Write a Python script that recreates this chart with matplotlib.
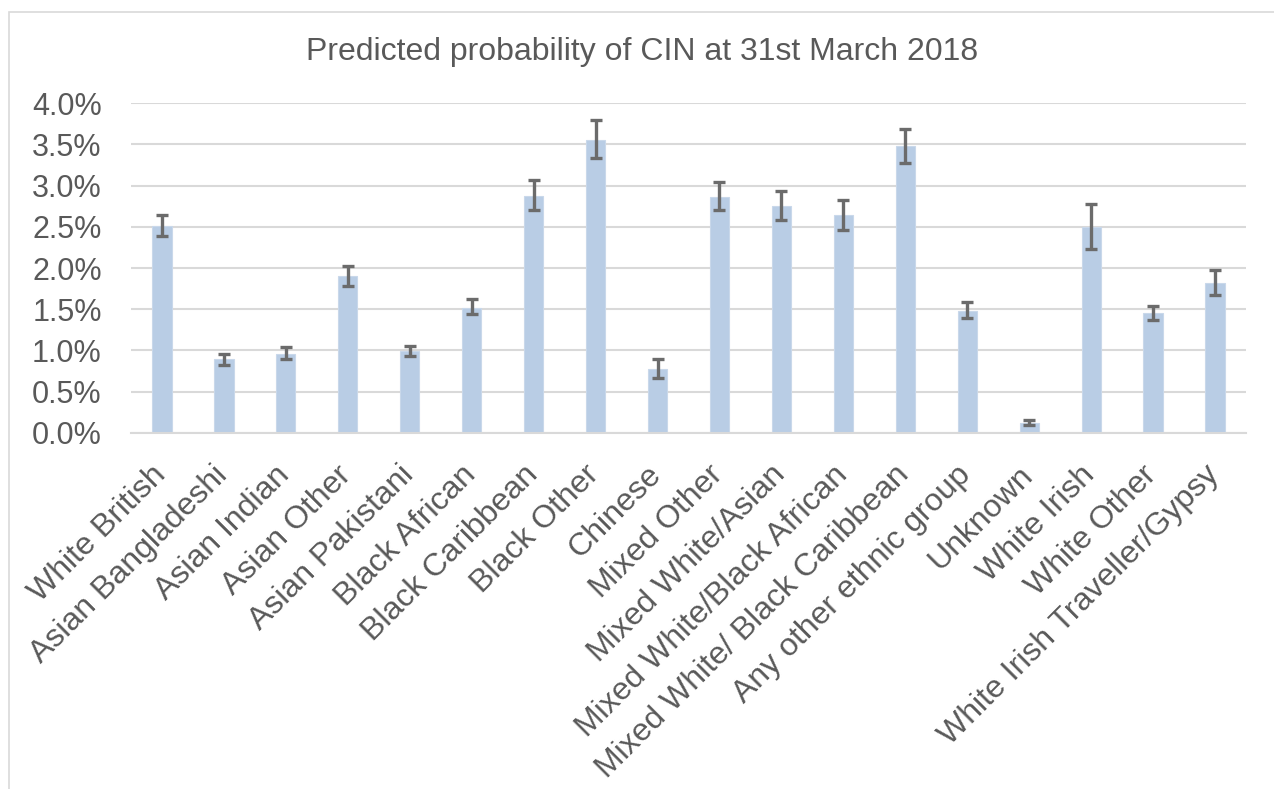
import numpy as np
import matplotlib
matplotlib.use('Agg')
from matplotlib import pyplot as plt
from matplotlib.patches import Rectangle
from matplotlib.ticker import PercentFormatter

groups = ['White British', 'Asian Bangladeshi', 'Asian Indian', 'Asian Other',
          'Asian Pakistani', 'Black African', 'Black Caribbean', 'Black Other',
          'Chinese', 'Mixed Other', 'Mixed White/Asian', 'Mixed White/Black African',
          'Mixed White/ Black Caribbean', 'Any other ethnic group', 'Unknown',
          'White Irish', 'White Other', 'White Irish Traveller/Gypsy']
# predicted probability (%) with lower / upper confidence limits
prob = [2.51, 0.89, 0.96, 1.90, 0.99, 1.52, 2.88, 3.56, 0.77, 2.86, 2.75, 2.64,
        3.48, 1.48, 0.12, 2.50, 1.45, 1.82]
lower = [2.39, 0.82, 0.89, 1.78, 0.93, 1.44, 2.70, 3.34, 0.67, 2.70, 2.58, 2.46,
         3.28, 1.39, 0.09, 2.23, 1.37, 1.67]
upper = [2.64, 0.96, 1.04, 2.03, 1.05, 1.62, 3.07, 3.80, 0.89, 3.04, 2.93, 2.83,
         3.69, 1.59, 0.16, 2.78, 1.54, 1.97]

plt.rcParams['font.family'] = ['Liberation Sans', 'DejaVu Sans']
txt = '#595959'

fig = plt.figure(figsize=(12.74, 7.89), dpi=100)
fig.patches.append(Rectangle((9/1274, -0.05), 1.1, 1 - 12/789 + 0.05,
                             transform=fig.transFigure, fill=False,
                             edgecolor='#d9d9d9', linewidth=1.2))
ax = fig.add_axes([131/1274, 1 - 432.7/789, 1115/1274, 329.4/789])

x = np.arange(len(groups))
p = np.array(prob) / 100
lo = p - np.array(lower) / 100
hi = np.array(upper) / 100 - p
ax.bar(x, p, width=0.31, color='#b9cde5', edgecolor='#c9d8ea', linewidth=0.8, zorder=2)
ax.errorbar(x, p, yerr=[lo, hi], fmt='none', ecolor='#6b6b6b', elinewidth=2.4,
            capsize=4.3, capthick=2.4, zorder=3)

ax.set_xlim(-0.5, len(groups) - 0.5)
ax.set_ylim(0, 0.04)
ax.set_yticks(np.arange(0, 0.0401, 0.005))
ax.yaxis.set_major_formatter(PercentFormatter(1.0, decimals=1))
ax.grid(axis='y', color='#d9d9d9', linewidth=1.5, zorder=0)
ax.set_axisbelow(True)
for s in ['top', 'right', 'left']:
    ax.spines[s].set_visible(False)
ax.spines['bottom'].set_color('#d9d9d9')
ax.spines['bottom'].set_linewidth(1.5)

# category labels drawn by hand so they can sit like Excel's rotated labels
ax.set_xticks(x)
ax.set_xticklabels([])
for i, g in enumerate(groups):
    ax.annotate(g, xy=(i, 0), xycoords=('data', 'axes fraction'),
                xytext=(-8, -19.5), textcoords='offset points',
                rotation=45, ha='right', va='top', rotation_mode='anchor',
                fontsize=23, color=txt, annotation_clip=False)
ax.tick_params(axis='both', length=0, labelcolor=txt)
ax.tick_params(axis='y', pad=21, labelsize=22)

fig.text(0.504, 1 - 52/789, 'Predicted probability of CIN at 31st March 2018',
         ha='center', va='center', fontsize=23, color=txt)

fig.savefig('out.png', dpi=100)
